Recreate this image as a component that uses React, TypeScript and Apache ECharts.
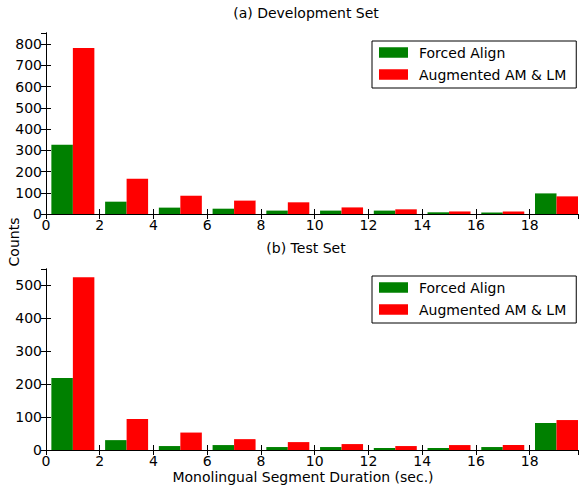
import React, { useEffect, useRef } from "react";
import * as echarts from "echarts";

const binStarts = [0, 2, 4, 6, 8, 10, 12, 14, 16, 18];
const devForced = [326, 58, 30, 25, 16, 16, 16, 8, 7, 97];
const devAugmented = [781, 166, 86, 63, 55, 31, 22, 12, 12, 83];
const testForced = [219, 30, 12, 15, 9, 9, 6, 6, 9, 82];
const testAugmented = [525, 94, 53, 33, 24, 18, 12, 15, 15, 91];
const seriesNames = ["Forced Align", "Augmented AM & LM"];
const colors = ["#008000", "#ff0000"];
const panelTitles = ["(a) Development Set", "(b) Test Set"];
const xTitle = "Monolingual Segment Duration (sec.)";
const yTitle = "Counts";
const yMaxes = [852, 550];

const FONT = "DejaVu Sans";

function barData(values: number[], offset0: number, offset1: number) {
  return binStarts.map((s, i) => [s + offset0, s + offset1, values[i]]);
}

const renderBar = (params: any, api: any) => {
  const x0 = api.value(0);
  const x1 = api.value(1);
  const y = api.value(2);
  const p0 = api.coord([x0, y]);
  const p1 = api.coord([x1, 0]);
  return {
    type: "rect",
    shape: { x: p0[0], y: p0[1], width: p1[0] - p0[0], height: p1[1] - p0[1] },
    style: { fill: api.visual("color") },
  };
};

export default function App() {
  const ref = useRef<HTMLDivElement>(null);
  useEffect(() => {
    document.body.style.margin = "0";
    if (!ref.current) return;
    const chart = echarts.init(ref.current, null, { renderer: "svg" });
    const grids = [
      { left: 46, right: 6, top: 33, height: 181 },
      { left: 46, right: 6, top: 269, height: 181 },
    ];
    const tickStyle = {
      show: true,
      inside: true,
      length: 5,
      lineStyle: { color: "#000", width: 1 },
    };
    const lineStyle = { show: true, lineStyle: { color: "#000", width: 1 } };
    const xAxes: any[] = [];
    const yAxes: any[] = [];
    [0, 1].forEach((g) => {
      xAxes.push({
        type: "value",
        gridIndex: g,
        position: "bottom",
        min: 0,
        max: 19.8,
        interval: 2,
        z: 5,
        axisLine: lineStyle,
        axisTick: tickStyle,
        splitLine: { show: false },
        axisLabel: {
          show: true,
          margin: 4,
          color: "#000",
          fontFamily: FONT,
          fontSize: 14,
          showMaxLabel: false,
        },
      });
      xAxes.push({
        type: "value",
        gridIndex: g,
        position: "top",
        min: 0,
        max: 19.8,
        interval: 2,
        z: 5,
        axisLine: lineStyle,
        axisTick: tickStyle,
        splitLine: { show: false },
        axisLabel: { show: false },
      });
      yAxes.push({
        type: "value",
        gridIndex: g,
        position: "left",
        min: 0,
        max: yMaxes[g],
        interval: 100,
        z: 5,
        axisLine: lineStyle,
        axisTick: tickStyle,
        splitLine: { show: false },
        axisLabel: {
          show: true,
          margin: 4,
          color: "#000",
          fontFamily: FONT,
          fontSize: 14,
          showMaxLabel: false,
        },
      });
      yAxes.push({
        type: "value",
        gridIndex: g,
        position: "right",
        min: 0,
        max: yMaxes[g],
        interval: 100,
        z: 5,
        axisLine: lineStyle,
        axisTick: tickStyle,
        splitLine: { show: false },
        axisLabel: { show: false },
      });
    });

    const panels = [
      [devForced, devAugmented],
      [testForced, testAugmented],
    ];
    const series: any[] = [];
    panels.forEach((vals, g) => {
      series.push({
        type: "custom",
        name: seriesNames[0],
        xAxisIndex: g * 2,
        yAxisIndex: g * 2,
        itemStyle: { color: colors[0] },
        encode: { x: [0, 1], y: 2 },
        renderItem: renderBar,
        data: barData(vals[0], 0.2, 1.0),
      });
      series.push({
        type: "custom",
        name: seriesNames[1],
        xAxisIndex: g * 2,
        yAxisIndex: g * 2,
        itemStyle: { color: colors[1] },
        encode: { x: [0, 1], y: 2 },
        renderItem: renderBar,
        data: barData(vals[1], 1.0, 1.8),
      });
    });

    const legendBase = {
      orient: "vertical",
      left: 372,
      icon: "rect",
      itemWidth: 29,
      itemHeight: 10.5,
      itemGap: 8,
      padding: [4.5, 10, 6.5, 7],
      borderColor: "#000",
      borderWidth: 1,
      borderRadius: 0,
      backgroundColor: "#fff",
      selectedMode: false,
      data: seriesNames,
      textStyle: {
        color: "#000",
        fontFamily: FONT,
        fontSize: 14,
        lineHeight: 14,
        padding: [0, 0, 0, 6],
      },
    };

    chart.setOption({
      animation: false,
      backgroundColor: "#fff",
      grid: grids,
      xAxis: xAxes,
      yAxis: yAxes,
      series,
      legend: [
        { ...legendBase, top: 41 },
        { ...legendBase, top: 276 },
      ],
      graphic: [
        {
          type: "text",
          x: 306,
          y: 13,
          style: {
            text: panelTitles[0],
            fill: "#000",
            font: `14px '${FONT}'`,
            textAlign: "center",
            textVerticalAlign: "middle",
          },
        },
        {
          type: "text",
          x: 306,
          y: 248,
          style: {
            text: panelTitles[1],
            fill: "#000",
            font: `14px '${FONT}'`,
            textAlign: "center",
            textVerticalAlign: "middle",
          },
        },
        {
          type: "text",
          x: 303,
          y: 477,
          style: {
            text: xTitle,
            fill: "#000",
            font: `14px '${FONT}'`,
            textAlign: "center",
            textVerticalAlign: "middle",
          },
        },
        {
          type: "text",
          x: 14,
          y: 242,
          rotation: Math.PI / 2,
          style: {
            text: yTitle,
            fill: "#000",
            font: `14px '${FONT}'`,
            textAlign: "center",
            textVerticalAlign: "middle",
          },
        },
      ],
    });
    return () => chart.dispose();
  }, []);
  return <div ref={ref} style={{ width: 584, height: 486 }} />;
}
